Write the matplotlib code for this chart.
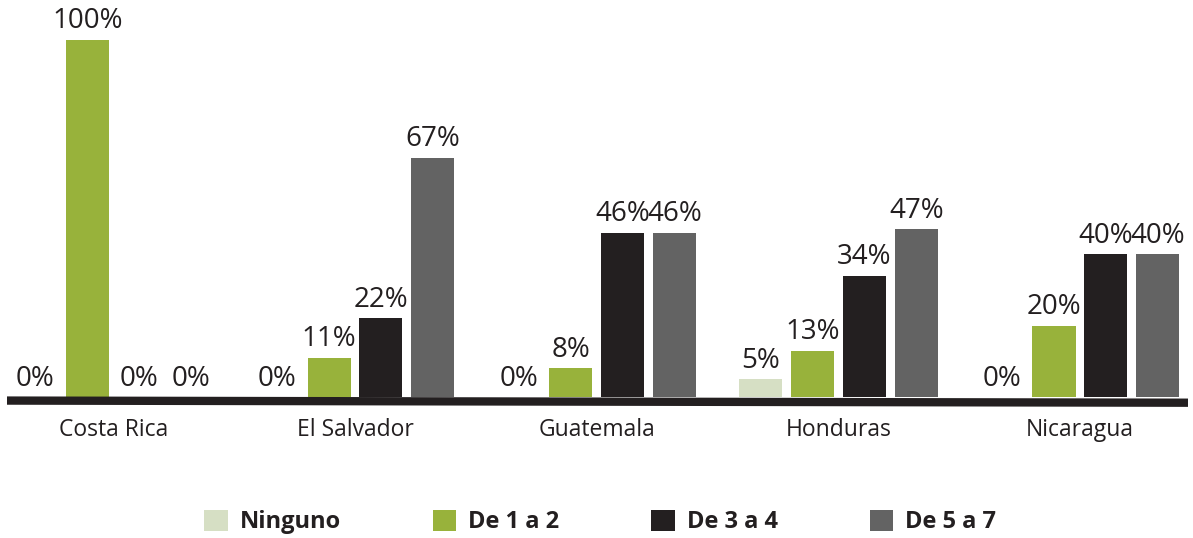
import numpy as np
import matplotlib.pyplot as plt

# data
countries = ["Costa Rica", "El Salvador", "Guatemala", "Honduras", "Nicaragua"]
series = ["Ninguno", "De 1 a 2", "De 3 a 4", "De 5 a 7"]
ninguno = [0, 0, 0, 5, 0]
de_1_a_2 = [100, 11, 8, 13, 20]
de_3_a_4 = [0, 22, 46, 34, 40]
de_5_a_7 = [0, 67, 46, 47, 40]
colors = ["#d6dfc4", "#98b23b", "#231f20", "#636363"]

plt.rcParams['font.family'] = ['Open Sans', 'DejaVu Sans']

fig = plt.figure(figsize=(11.93, 5.38), dpi=100)
ax = fig.add_axes([7 / 1193, (538 - 397) / 538, 1181 / 1193, 393 / 538])

x = np.arange(len(countries))
width = 0.178
pitch = 0.215
values = [ninguno, de_1_a_2, de_3_a_4, de_5_a_7]

handles = []
for i, (name, vals, col) in enumerate(zip(series, values, colors)):
    pos = x + (i - 1.5) * pitch
    b = ax.bar(pos, vals, width, color=col, label=name, zorder=2)
    handles.append(b)
    for px, v in zip(pos, vals):
        ax.text(px, v + 1.2, f"{v}%", ha="center", va="bottom",
                fontsize=20, color="#231f20", zorder=3)

# thick baseline
ax.plot([-0.44, 4.447], [-1.0, -1.6], color="#231f20", lw=6,
        solid_capstyle="butt", zorder=4, clip_on=False)

ax.set_xlim(-0.44, 4.447)
ax.set_ylim(0, 110)
ax.set_xticks(x)
ax.set_xticklabels(countries, fontsize=16.5, color="#231f20")
ax.tick_params(axis="x", length=0, pad=15)
ax.set_yticks([])
for s in ax.spines.values():
    s.set_visible(False)

leg = fig.legend(handles=handles, labels=series, loc="center",
                 bbox_to_anchor=(0.503, 0.03), ncol=4, frameon=False,
                 handlelength=1.0, handleheight=1.0, handletextpad=0.5,
                 columnspacing=3.9, prop={"weight": "bold", "size": 17})
for t in leg.get_texts():
    t.set_color("#231f20")

fig.savefig("out.png", dpi=100)
